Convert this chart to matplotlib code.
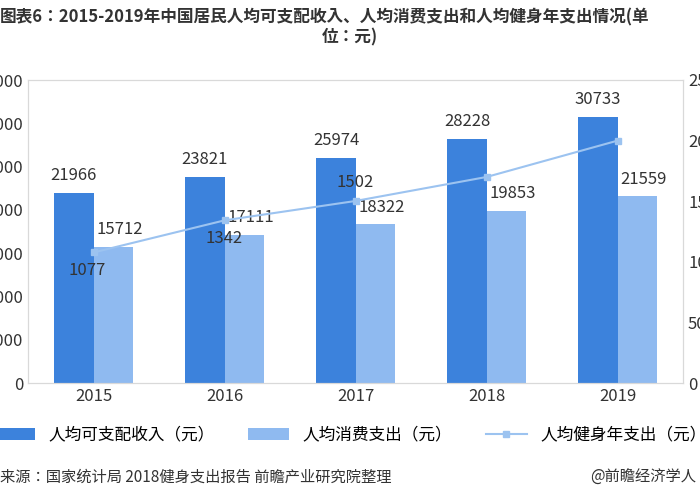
import matplotlib
matplotlib.use("Agg")
import matplotlib.pyplot as plt
from matplotlib import font_manager as fm
import numpy as np

cjk = [f.name for f in fm.fontManager.ttflist if "CJK" in f.name]
pref = [n for n in ["Noto Sans CJK SC", "Noto Sans CJK JP", "Noto Sans CJK TC", "Noto Sans CJK KR"] if n in cjk] or cjk
plt.rcParams["font.family"] = "sans-serif"
plt.rcParams["font.sans-serif"] = pref[:1] + ["DejaVu Sans"]

years = ["2015", "2016", "2017", "2018", "2019"]
income = [21966, 23821, 25974, 28228, 30733]
consume = [15712, 17111, 18322, 19853, 21559]
fitness = [1077, 1342, 1502, 1700, 2000]
fitness_labels = ["1077", "1342", "1502", "", ""]

fig = plt.figure(figsize=(7, 5), dpi=100)
ax = fig.add_axes([0.04, 0.234, 0.936, 0.606])
x = np.arange(len(years))
w = 0.3
c1, c2, c3 = "#3C82DC", "#8FBAF0", "#9CC3F0"
ax.bar(x - w/2, income, w, color=c1, label="人均可支配收入（元）")
ax.bar(x + w/2, consume, w, color=c2, label="人均消费支出（元）")
for i in range(len(x)):
    ax.text(x[i] - w/2, income[i] + 1000, str(income[i]), ha="center", va="bottom", fontsize=12, color="#333333")
    ax.text(x[i] + w/2 + 0.05, consume[i] + 1000, str(consume[i]), ha="center", va="bottom", fontsize=12, color="#333333")
ax.set_ylim(0, 35000)
ax.set_yticks(range(0, 35001, 5000))
ax.set_xlim(-0.5, 4.5)
ax.set_xticks(x)
ax.set_xticklabels(years, fontsize=12)
ax.tick_params(length=0, labelsize=12, colors="#333333")
for s in ax.spines.values():
    s.set_color("#d9d9d9")

ax2 = ax.twinx()
ax2.plot(x, fitness, color=c3, marker="s", markersize=5, linewidth=1.5, label="人均健身年支出（元）")
offs = [(-0.05, -80, "top"), (0.0, -80, "top"), (0.0, 80, "bottom"), None, None]
for i in range(len(x)):
    if fitness_labels[i]:
        dx, dy, va = offs[i]
        ax2.text(x[i] + dx, fitness[i] + dy, fitness_labels[i], ha="center", va=va, fontsize=12, color="#333333")
ax2.set_ylim(0, 2500)
ax2.set_yticks(range(0, 2501, 500))
ax2.tick_params(length=0, labelsize=12, colors="#333333")
for s in ax2.spines.values():
    s.set_color("#d9d9d9")

h1, l1 = ax.get_legend_handles_labels()
h2, l2 = ax2.get_legend_handles_labels()
fig.legend(h1 + h2, l1 + l2, loc="center", bbox_to_anchor=(0.5, 0.13), ncol=3,
           frameon=False, fontsize=12, handlelength=2.5, columnspacing=2)

fig.text(0.0, 0.965, "图表6：2015-2019年中国居民人均可支配收入、人均消费支出和人均健身年支出情况(单",
         fontsize=12, fontweight="bold", color="#333333", va="center")
fig.text(0.5, 0.925, "位：元)", fontsize=12, fontweight="bold", color="#333333", ha="center", va="center")
fig.text(0.0, 0.045, "来源：国家统计局 2018健身支出报告 前瞻产业研究院整理", fontsize=11, color="#333333", va="center")
fig.text(0.995, 0.045, "@前瞻经济学人", fontsize=11, color="#333333", va="center", ha="right")

fig.savefig("out.png", dpi=100)
